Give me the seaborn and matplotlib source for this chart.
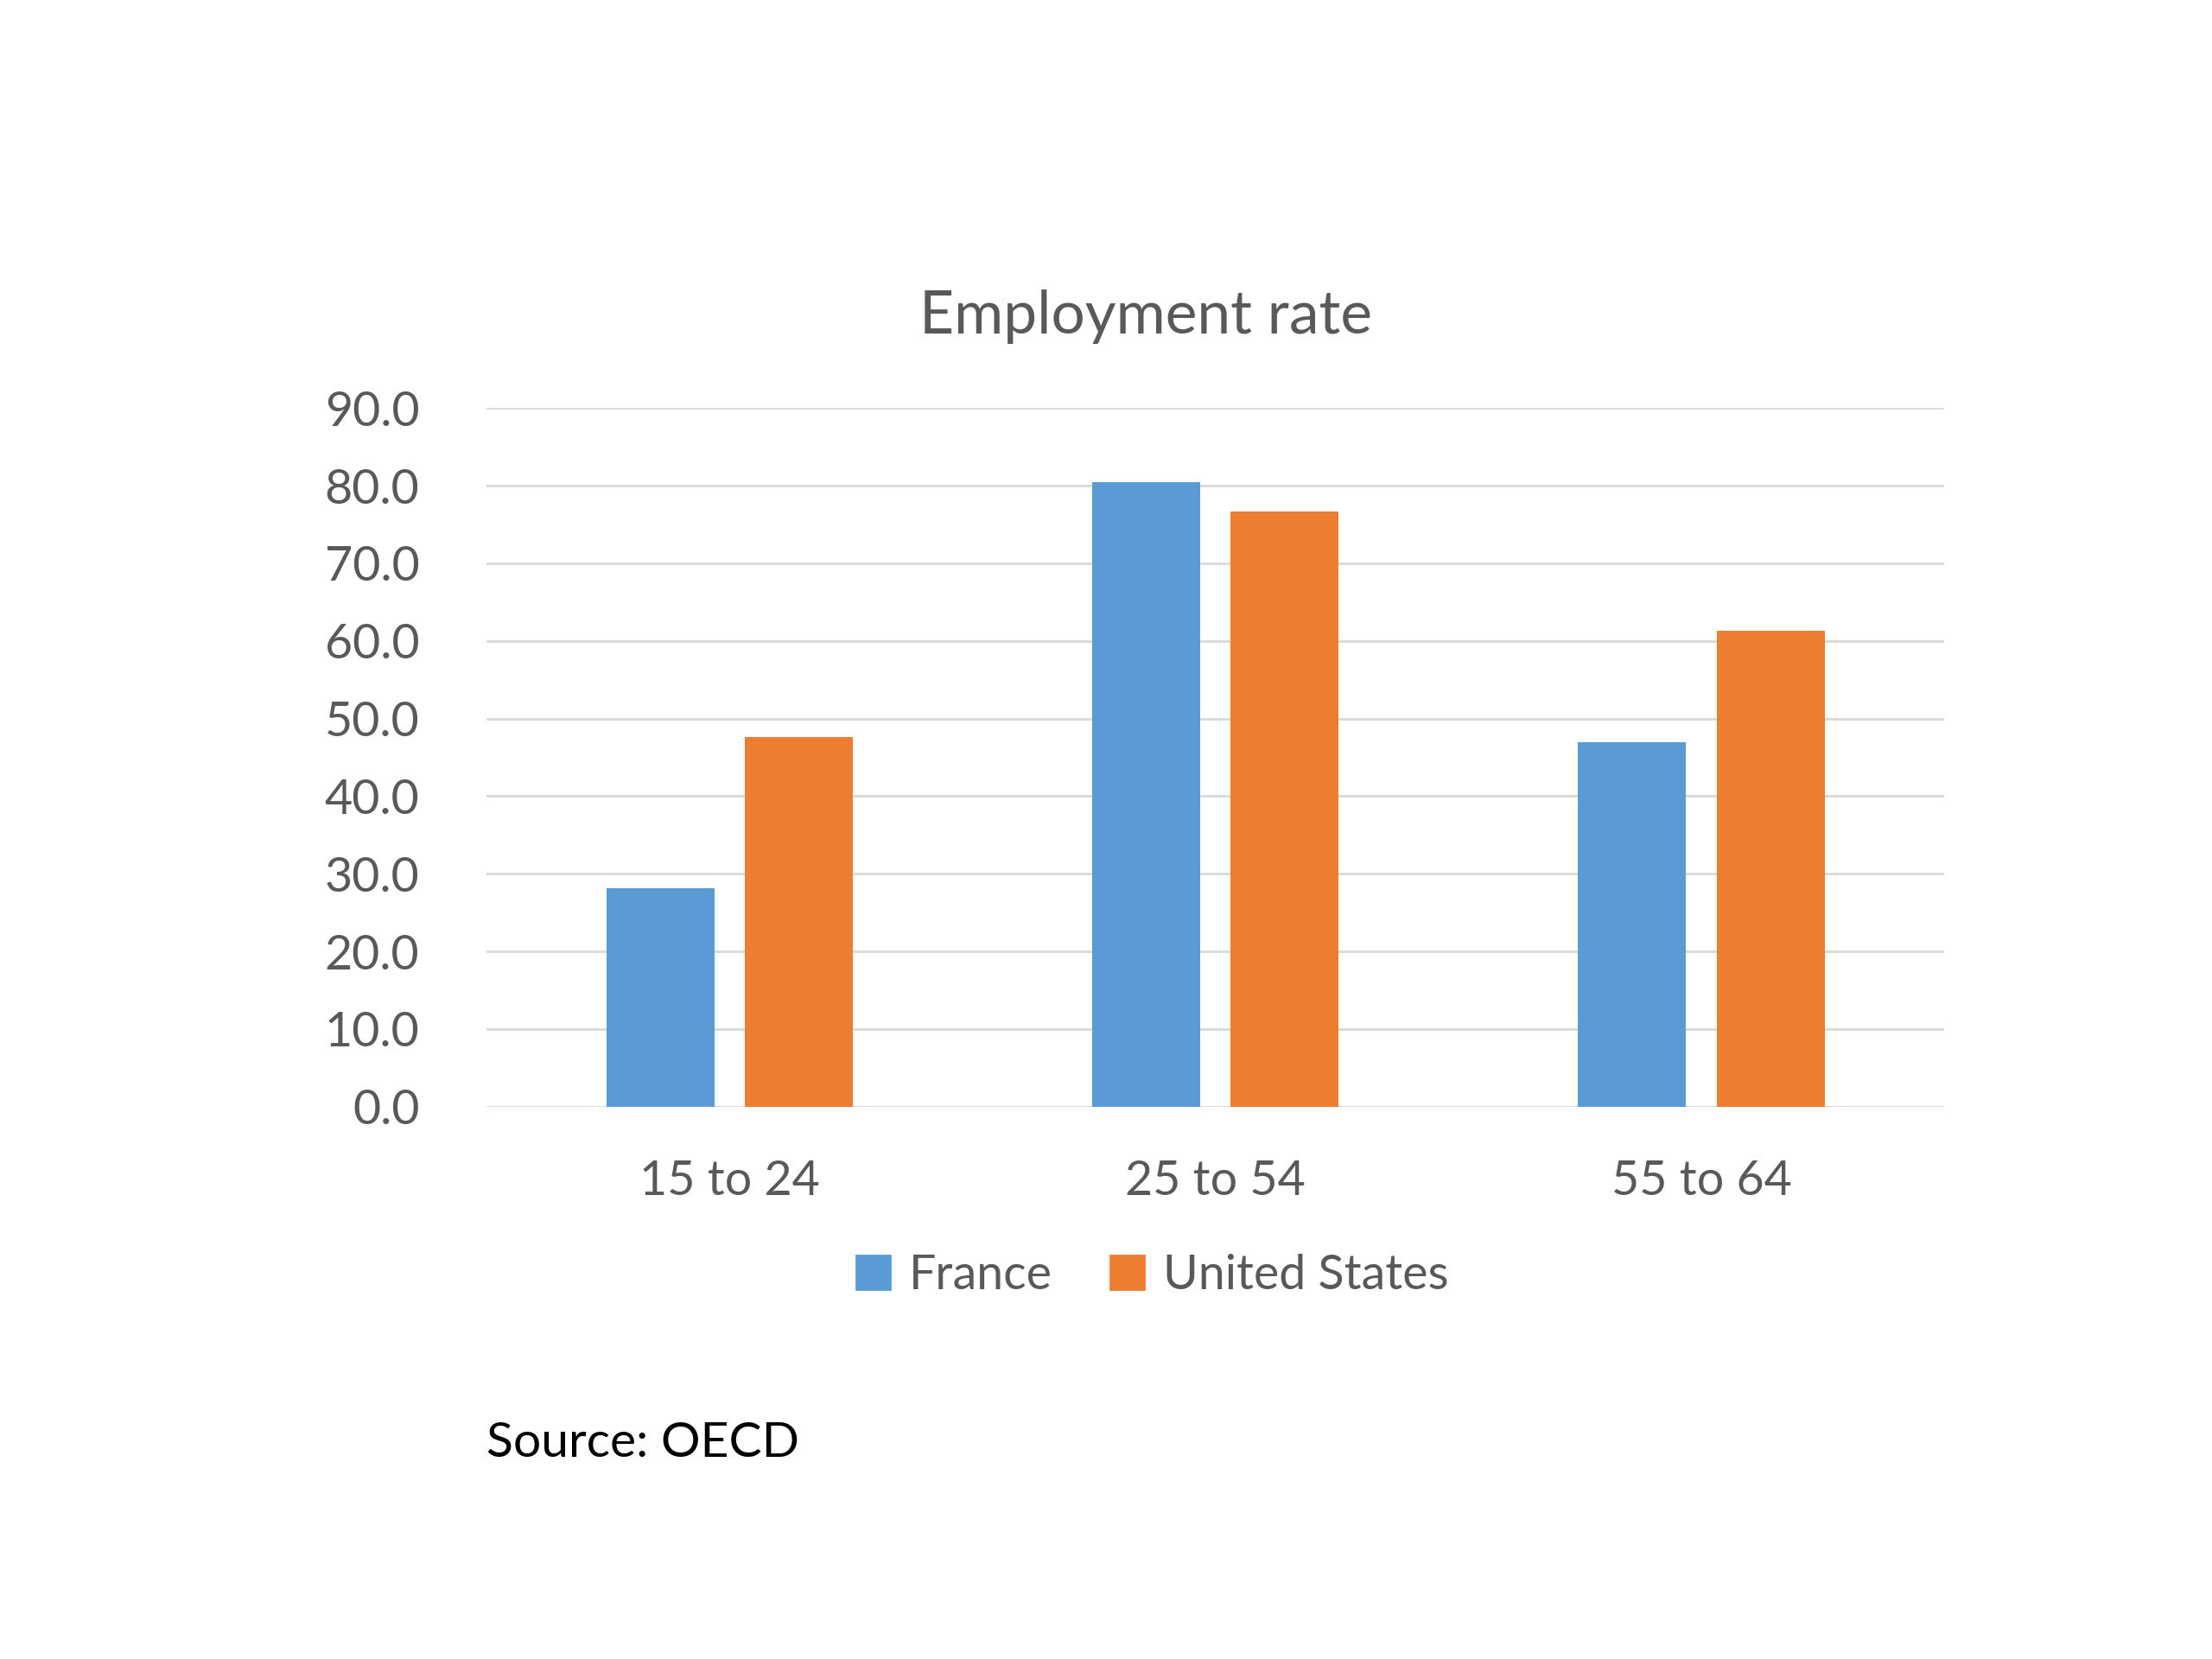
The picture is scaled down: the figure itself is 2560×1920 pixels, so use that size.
import numpy as np
import matplotlib
matplotlib.use("Agg")
import matplotlib.pyplot as plt
import seaborn as sns
import pandas as pd

# data
age_groups = ["15 to 24", "25 to 54", "55 to 64"]
france = [28.1, 80.5, 47.0]
united_states = [47.6, 76.7, 61.3]
countries = ["France", "United States"]
colors = ["#5B9BD5", "#ED7D31"]

df = pd.DataFrame({
    "Age": age_groups * 2,
    "Rate": france + united_states,
    "Country": ["France"] * 3 + ["United States"] * 3,
})

sns.set_theme(style="white")
plt.rcParams['font.family'] = ['Lato', 'DejaVu Sans']

fig = plt.figure(figsize=(12.8, 9.6), dpi=200)
ax = fig.add_axes([0.220, 0.333, 0.659, 0.421])

sns.barplot(data=df, x="Age", y="Rate", hue="Country", hue_order=countries,
            palette=colors, width=0.57, gap=0.22, saturation=1,
            linewidth=0, ax=ax, zorder=3)

ax.set_ylim(0, 90)
ax.set_xlim(-0.5, 2.5)
ax.set_yticks(np.arange(0, 91, 10))
ax.set_yticklabels([f"{v:.1f}" for v in np.arange(0, 91, 10)])
ax.yaxis.grid(True, color="#D9D9D9", linewidth=1.0, zorder=0)
ax.set_axisbelow(True)
for s in ax.spines.values():
    s.set_visible(False)
ax.set_xlabel("")
ax.set_ylabel("")
ax.tick_params(axis="y", length=0, pad=28, labelsize=20, labelcolor="#595959")
ax.tick_params(axis="x", length=0, pad=22, labelsize=20, labelcolor="#595959")

ax.legend_.remove()
handles = [plt.Rectangle((0, 0), 1, 1, color=c) for c in colors]
fig.legend(handles, countries, loc="center", bbox_to_anchor=(0.521, 0.231),
           ncol=2, frameon=False, fontsize=20, labelcolor="#595959",
           handlelength=0.7, handleheight=0.7, handletextpad=0.4,
           columnspacing=1.2)

fig.text(0.518, 0.809, "Employment rate", ha="center", va="center",
         fontsize=25, color="#595959")
fig.text(0.220, 0.130, "Source: OECD", ha="left", va="center",
         fontsize=20.5, color="black")

fig.savefig("out.png", dpi=200, facecolor="white")
